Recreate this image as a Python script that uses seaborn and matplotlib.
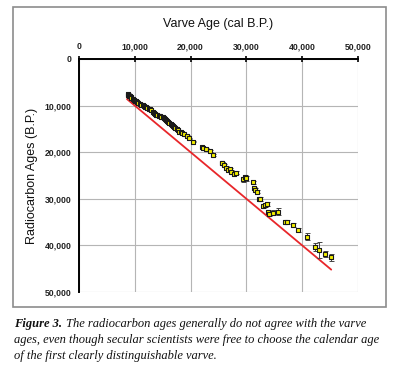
import matplotlib
matplotlib.use("Agg")
import matplotlib.pyplot as plt
import seaborn as sns
import pandas as pd
import numpy as np
from matplotlib.patches import Rectangle

# ---- data ----
varve_age = [8720, 8850, 8960, 9100, 9260, 9400, 9620, 9800, 10040, 10200, 10450, 10600,
             10930, 11100, 11410, 11600, 11890, 12050, 12250, 12500, 12720, 12950, 13200,
             13400, 13620, 13850, 14040, 14300, 14520, 14750, 14990, 15200, 15470, 15650,
             15830, 16000, 16190, 16400, 16610, 16800, 17030, 17250, 17500, 17750, 17980,
             18200, 18400, 18820, 19290, 19770, 20490,
             21980, 22300, 22700, 23400, 23950, 25570, 25700, 25900, 26300, 26760, 27000,
             27300, 27780, 28140, 29330, 29700, 29930, 31120, 31360, 31600, 31840, 32200,
             32440, 33030, 33300, 33640, 33930, 34110, 34820, 35720, 36920, 37330, 38290,
             39300, 40800, 42290, 43070, 44090, 45160]
c14_age = [7510, 7700, 7870, 8000, 8230, 8400, 8650, 8750, 8940, 9100, 9300, 9450,
           9660, 9800, 9940, 10100, 10230, 10400, 10520, 10650, 10800, 11000, 11370,
           11550, 11800, 11950, 12090, 12150, 12230, 12400, 12520, 12700, 12950, 13150,
           13380, 13600, 13800, 13950, 14160, 14300, 14520, 14800, 15090, 15300, 15590,
           15750, 15950, 16170, 16520, 17020, 17740,
           18810, 19000, 19300, 19700, 20600, 22250, 22390, 22700, 23300, 23820, 23650,
           24200, 24680, 24390, 25820, 25400, 25600, 26470, 27750, 28100, 28470, 30100,
           30040, 31550, 31300, 31120, 32770, 33260, 32980, 32770, 34910, 35050, 35620,
           36700, 38130, 40270, 40990, 41900, 42550]
c14_err = [150] * 51 + [200, 200, 200, 200, 250, 250, 250, 250, 250, 300, 300,
                        300, 300, 300, 500, 500, 500, 300, 350, 350, 350, 350,
                        400, 400, 400, 400, 400, 400, 500, 700, 400, 400, 400,
                        500, 700, 860, 1800, 640, 750]
line_x = [8600, 45200]
line_y = [8600, 45200]

x_ticks = [0, 10000, 20000, 30000, 40000, 50000]
y_ticks = [0, 10000, 20000, 30000, 40000, 50000]
tick_labels = ["0", "10,000", "20,000", "30,000", "40,000", "50,000"]

df = pd.DataFrame({"varve": varve_age, "c14": c14_age, "err": c14_err})
df_line = pd.DataFrame({"x": line_x, "y": line_y})

sns.set_theme(style="white")
plt.rcParams["font.family"] = ["Liberation Sans", "DejaVu Sans"]

fig = plt.figure(figsize=(4.0, 3.91), dpi=100)

# outer frame
fig.patches.append(Rectangle((13 / 400, 1 - 307 / 391), 373 / 400, 300 / 391,
                             transform=fig.transFigure, fill=False,
                             edgecolor="#8c8c8c", linewidth=1.2, zorder=0))

ax = fig.add_axes([79 / 400, 1 - 292 / 391, 279 / 400, 233 / 391])

sns.lineplot(data=df_line, x="x", y="y", ax=ax, color="#e8262a", linewidth=1.3, zorder=2)
ax.errorbar(df["varve"], df["c14"], yerr=df["err"], fmt="none", ecolor="#444444",
            elinewidth=0.7, capsize=1.8, capthick=0.7, zorder=3)
sns.scatterplot(data=df, x="varve", y="c14", ax=ax, marker="s", s=5,
                color="#f5f000", edgecolor="#1a1a1a", linewidth=0.8, zorder=4)

ax.set_xlim(0, 50000)
ax.set_ylim(50000, 0)
ax.xaxis.tick_top()
ax.xaxis.set_label_position("top")
ax.set_xticks(x_ticks)
ax.set_xticklabels(tick_labels)
ax.set_yticks(y_ticks)
ax.set_yticklabels(tick_labels)
ax.tick_params(axis="both", direction="inout", length=5, width=1.2, color="black",
               labelsize=6.2, pad=3)
for lab in ax.get_xticklabels() + ax.get_yticklabels():
    lab.set_fontweight("bold")
    lab.set_color("#222222")

ax.grid(True, color="#b5b5b5", linewidth=0.8)
ax.set_axisbelow(True)
for s in ["right", "bottom"]:
    ax.spines[s].set_visible(False)
for s in ["left", "top"]:
    ax.spines[s].set_color("black")
    ax.spines[s].set_linewidth(1.4)
ax.set_xlabel("Varve Age (cal B.P.)", fontsize=9, labelpad=11, color="#111111")
ax.set_ylabel("Radiocarbon Ages (B.P.)", fontsize=9, labelpad=5, color="#111111")

# caption
cap_font = ["Liberation Serif", "DejaVu Serif"]
fig.canvas.draw()
renderer = fig.canvas.get_renderer()
t0 = fig.text(14 / 400, 1 - 327 / 391, "Figure 3.", family=cap_font, style="italic",
              weight="bold", fontsize=9, color="#111111")
bb = t0.get_window_extent(renderer=renderer)
x_next = (bb.x1 + 4) / fig.bbox.width
fig.text(x_next, 1 - 327 / 391,
         "The radiocarbon ages generally do not agree with the varve",
         family=cap_font, style="italic", fontsize=9, color="#111111")
fig.text(14 / 400, 1 - 343 / 391,
         "ages, even though secular scientists were free to choose the calendar age",
         family=cap_font, style="italic", fontsize=9, color="#111111")
fig.text(14 / 400, 1 - 359 / 391,
         "of the first clearly distinguishable varve.",
         family=cap_font, style="italic", fontsize=9, color="#111111")

fig.savefig("out.png", dpi=100)
